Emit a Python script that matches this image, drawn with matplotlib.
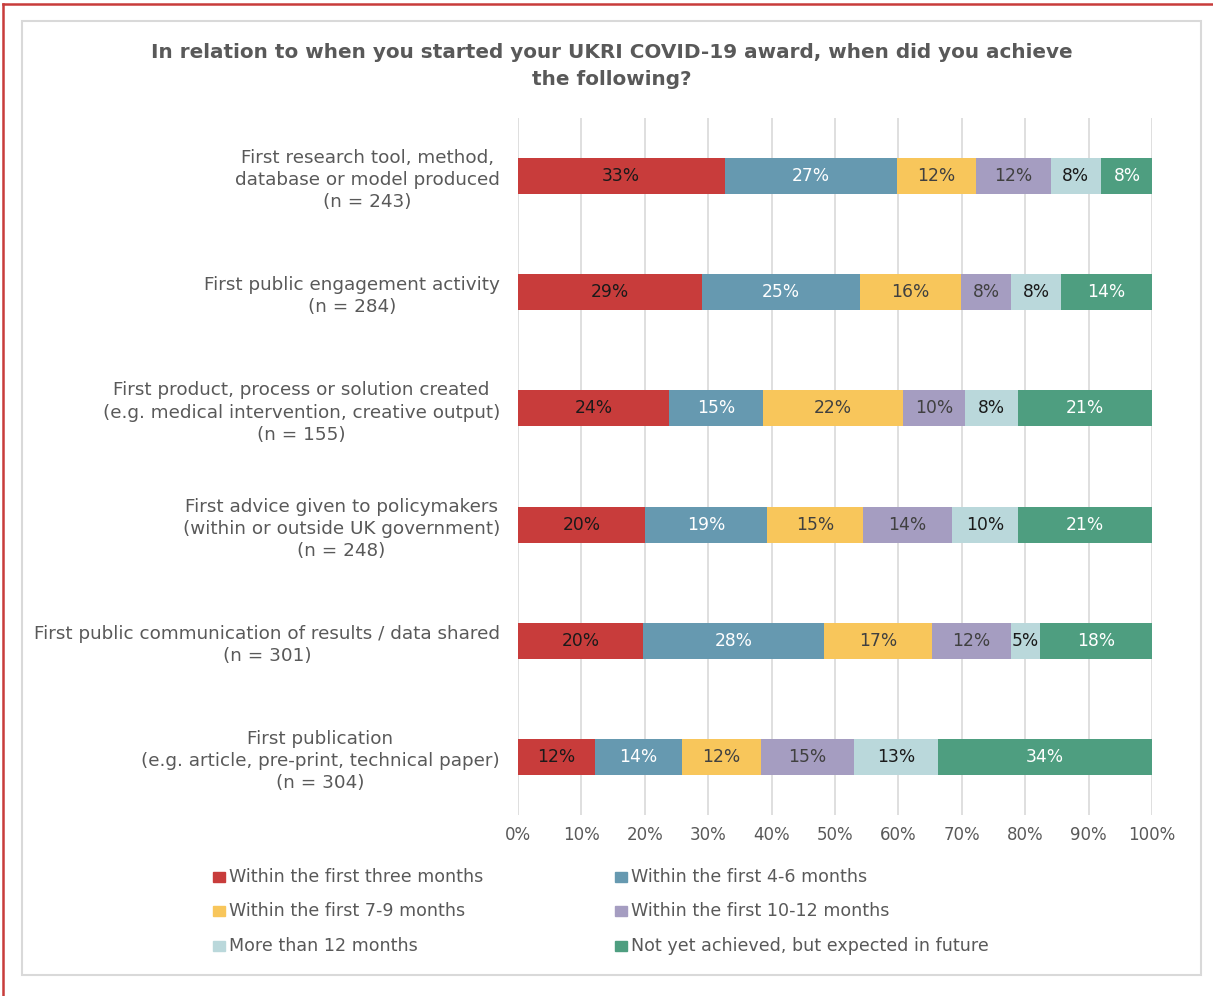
import numpy as np
import matplotlib.pyplot as plt
from matplotlib.patches import Rectangle
from matplotlib.lines import Line2D

# Data (percent of respondents)
categories = [
    'First research tool, method,\ndatabase or model produced\n(n = 243)',
    'First public engagement activity\n(n = 284)',
    'First product, process or solution created\n(e.g. medical intervention, creative output)\n(n = 155)',
    'First advice given to policymakers\n(within or outside UK government)\n(n = 248)',
    'First public communication of results / data shared\n(n = 301)',
    'First publication\n(e.g. article, pre-print, technical paper)\n(n = 304)',
]
series = [
    'Within the first three months',
    'Within the first 4-6 months',
    'Within the first 7-9 months',
    'Within the first 10-12 months',
    'More than 12 months',
    'Not yet achieved, but expected in future',
]
first_3 = [32.6, 29.0, 23.9, 20.1, 19.8, 12.1]
months_4_6 = [27.2, 25.0, 14.7, 19.2, 28.4, 13.8]
months_7_9 = [12.4, 15.9, 22.2, 15.1, 17.1, 12.4]
months_10_12 = [11.8, 7.9, 9.7, 14.1, 12.4, 14.7]
over_12 = [8.0, 7.8, 8.4, 10.4, 4.7, 13.3]
not_yet = [8.1, 14.4, 21.1, 21.1, 17.6, 33.7]
values = [first_3, months_4_6, months_7_9, months_10_12, over_12, not_yet]

colors = ['#C83C3B', '#6699B0', '#F8C65B', '#A59DC1', '#BAD8DB', '#4E9E80']
text_colors = ['#1a1a1a', 'white', '#404040', '#404040', '#1a1a1a', 'white']
gray = '#595959'

plt.rcParams['font.family'] = 'DejaVu Sans'

fig = plt.figure(figsize=(12.13, 9.96), dpi=100)
ax = fig.add_axes([0.427, 0.1817, 0.5227, 0.6998])

y = np.arange(len(categories))
left = np.zeros(len(categories))
for vals, col, tcol in zip(values, colors, text_colors):
    vals = np.array(vals)
    ax.barh(y, vals, left=left, height=0.31, color=col, zorder=3)
    for yi, (l, v) in enumerate(zip(left, vals)):
        ax.text(l + v / 2, yi, '%d%%' % round(v), ha='center', va='center',
                color=tcol, fontsize=12.3, zorder=4)
    left += vals

ax.set_xlim(0, 100)
ax.set_ylim(len(categories) - 0.5, -0.5)
ax.set_xticks(np.arange(0, 101, 10))
ax.set_xticklabels(['%d%%' % t for t in range(0, 101, 10)], color=gray, fontsize=12)
ax.set_yticks(y)
ax.set_yticklabels(categories, color=gray, fontsize=13.2, multialignment='center',
                   linespacing=1.3)
ax.tick_params(axis='x', length=0, pad=8)
ax.tick_params(axis='y', length=0, pad=13)
ax.grid(axis='x', color='#d9d9d9', linewidth=1.2, zorder=0)
for s in ax.spines.values():
    s.set_visible(False)

fig.text(0.504, 0.934, 'In relation to when you started your UKRI COVID-19 award, when did you achieve\nthe following?',
         ha='center', va='center', fontsize=14.4, fontweight='bold', color=gray,
         linespacing=1.55)

# legend, two columns, row by row
for i, (name, col) in enumerate(zip(series, colors)):
    c, r = i % 2, i // 2
    x0 = [213, 615][c] / 1213
    y0 = 1 - [877, 911, 946][r] / 996
    fig.patches.append(Rectangle((x0, y0 - 0.0055), 0.0095, 0.011, color=col,
                                 transform=fig.transFigure, figure=fig))
    fig.text(x0 + 0.0135, y0, name, ha='left', va='center', fontsize=12.6, color=gray)

# grey chart frame and red outer border
fig.patches.append(Rectangle((22 / 1213, 1 - 975 / 996), 1179 / 1213, 954 / 996,
                             fill=False, edgecolor='#d9d9d9', linewidth=1.5,
                             transform=fig.transFigure, figure=fig))
fig.lines.append(Line2D([3 / 1213, 1], [1 - 4 / 996] * 2, color='#C83C3B', linewidth=1.8,
                        transform=fig.transFigure, figure=fig))
fig.lines.append(Line2D([3 / 1213] * 2, [0, 1 - 4 / 996], color='#C83C3B', linewidth=1.8,
                        transform=fig.transFigure, figure=fig))

fig.savefig('out.png', dpi=100)
